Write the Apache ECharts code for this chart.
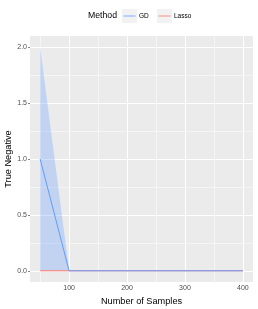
<!DOCTYPE html>
<html><head><meta charset="utf-8">
<script src="https://cdn.jsdelivr.net/npm/echarts@6/dist/echarts.min.js"></script>
<style>html,body{margin:0;padding:0;background:#fff}#c{width:258px;height:309px}</style>
</head><body><div id="c"></div>
<script>
var samples = [50, 100, 150, 200, 250, 300, 350, 400];
var gdMean  = [1, 0, 0, 0, 0, 0, 0, 0];
var gdLower = [0, 0, 0, 0, 0, 0, 0, 0];
var gdUpper = [2, 0, 0, 0, 0, 0, 0, 0];
var lassoMean = [0, 0, 0, 0, 0, 0, 0, 0];
var xTicks = [100, 200, 300, 400];
var yTicks = [0, 0.5, 1, 1.5, 2];
var xMinor = [50, 150, 250, 350];
var yMinor = [0.25, 0.75, 1.25, 1.75];
var methods = ['GD', 'Lasso'];

function pairs(ys){ return samples.map(function(x,i){ return [x, ys[i]]; }); }

var gridLines = [];
xTicks.forEach(function(v){ gridLines.push({xAxis:v, lineStyle:{width:1}}); });
yTicks.forEach(function(v){ gridLines.push({yAxis:v, lineStyle:{width:1}}); });
xMinor.forEach(function(v){ gridLines.push({xAxis:v, lineStyle:{width:0.5}}); });
yMinor.forEach(function(v){ gridLines.push({yAxis:v, lineStyle:{width:0.5}}); });

var BLUE = '#619CFF', RED = '#F8766D';
var colors = [BLUE, RED];
var keyX = [122, 157];
var legendGraphics = [];
methods.forEach(function(m, i){
  legendGraphics.push({type:'rect', shape:{x:keyX[i], y:9, width:15, height:14}, style:{fill:'#f2f2f2'}});
  legendGraphics.push({type:'line', shape:{x1:keyX[i]+1.5, y1:16, x2:keyX[i]+13.5, y2:16}, style:{stroke:colors[i], lineWidth:1, opacity:0.8}});
  legendGraphics.push({type:'text', x:keyX[i]+17, y:16, style:{text:m, fontSize:6.5, fontFamily:'Liberation Sans', fill:'#000', verticalAlign:'middle'}});
});

var chart = echarts.init(document.getElementById('c'), null, {renderer:'canvas'});
var tickLab = {color:'#4d4d4d', fontSize:7, fontFamily:'Liberation Sans'};
chart.setOption({
  animation:false,
  grid:{left:30, right:5, top:36, bottom:27, show:true, backgroundColor:'#ebebeb', borderWidth:0,
    containLabel:false, outerBoundsMode:'none'},
  xAxis:{type:'value', min:32.5, max:417.5,
    name:'Number of Samples', nameLocation:'middle', nameGap:15,
    nameTextStyle:{color:'#000', fontSize:9.2, fontFamily:'Liberation Sans'},
    axisLine:{show:false}, splitLine:{show:false},
    axisTick:{show:true, length:2, customValues:xTicks, lineStyle:{color:'#333', width:0.6}},
    axisLabel:Object.assign({customValues:xTicks, margin:3}, tickLab)},
  yAxis:{type:'value', min:-0.1, max:2.1,
    axisLine:{show:false}, splitLine:{show:false},
    axisTick:{show:true, length:2, customValues:yTicks, lineStyle:{color:'#333', width:0.6}},
    axisLabel:Object.assign({customValues:yTicks, margin:3, formatter:function(v){return v.toFixed(1);}}, tickLab)},
  graphic:[
    {type:'text', x:88, y:16, style:{text:'Method', fontSize:8.7, fontFamily:'Liberation Sans', fill:'#000', verticalAlign:'middle'}},
    {type:'text', x:8, y:159, rotation:Math.PI/2,
      style:{text:'True Negative', fontSize:9.2, fontFamily:'Liberation Sans', fill:'#000', align:'center', verticalAlign:'middle'}}
  ].concat(legendGraphics),
  series:[
    {name:'ribbon', type:'custom', coordinateSystem:'cartesian2d', silent:true, z:2,
      data:[0],
      renderItem:function(params, api){
        var pts = [];
        for (var i=0;i<samples.length;i++) pts.push(api.coord([samples[i], gdUpper[i]]));
        for (var j=samples.length-1;j>=0;j--) pts.push(api.coord([samples[j], gdLower[j]]));
        return {type:'polygon', shape:{points:pts}, style:{fill:BLUE, opacity:0.3}};
      },
      markLine:{silent:true, symbol:'none', label:{show:false}, lineStyle:{color:'#ffffff', type:'solid'}, data:gridLines, z:1}
    },
    {name:'Lasso', type:'line', data:pairs(lassoMean), showSymbol:false, symbol:'none', itemStyle:{color:RED}, lineStyle:{color:RED, width:1}, z:3},
    {name:'GD', type:'line', data:pairs(gdMean), showSymbol:false, symbol:'none', itemStyle:{color:BLUE}, lineStyle:{color:BLUE, width:1}, z:4}
  ]
});
</script></body></html>
